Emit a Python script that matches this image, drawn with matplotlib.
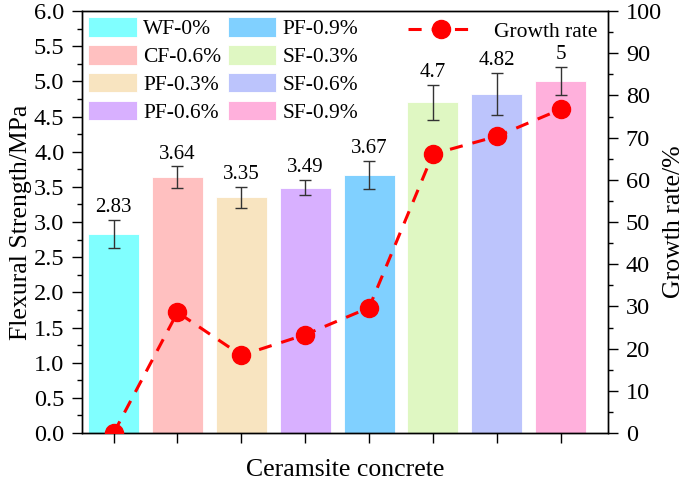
import matplotlib
matplotlib.use("Agg")
import matplotlib.pyplot as plt
from matplotlib.ticker import MultipleLocator, FormatStrFormatter
from matplotlib.patches import Patch

plt.rcParams['font.family'] = ['Liberation Serif', 'DejaVu Serif']

categories = ["WF-0%", "CF-0.6%", "PF-0.3%", "PF-0.6%", "PF-0.9%", "SF-0.3%", "SF-0.6%", "SF-0.9%"]
strength = [2.83, 3.64, 3.35, 3.49, 3.67, 4.7, 4.82, 5.0]
strength_labels = ["2.83", "3.64", "3.35", "3.49", "3.67", "4.7", "4.82", "5"]
errors = [0.2, 0.15, 0.15, 0.11, 0.2, 0.25, 0.3, 0.2]
growth = [0, 28.6, 18.4, 23.3, 29.7, 66.1, 70.3, 76.7]
colors = ["#80FFFF", "#FFC0C0", "#F8E4C0", "#D8B0FF", "#80D0FF", "#DFF7C2", "#BCC4FC", "#FFB0DC"]

TICK_FS = 17.5
LABEL_FS = 18.5
LEG_FS = 15.5
VAL_FS = 15

fig = plt.figure(figsize=(6.85, 4.83), dpi=100)
ax = fig.add_axes([0.1193, 0.1035, 0.769, 0.8737])
x = list(range(len(categories)))
ax.bar(x, strength, width=0.8, color=colors, edgecolor='white', linewidth=0.6,
       yerr=errors, error_kw=dict(ecolor="#333333", elinewidth=1.0, capsize=4.5, capthick=1.0),
       zorder=2)
for xi, v, e, lab in zip(x, strength, errors, strength_labels):
    ax.text(xi, v + e + 0.04, lab, ha='center', va='bottom', fontsize=VAL_FS)

ax.set_xlim(-0.5, 7.75)
ax.set_ylim(0, 6.0)
ax.yaxis.set_major_locator(MultipleLocator(0.5))
ax.yaxis.set_minor_locator(MultipleLocator(0.25))
ax.yaxis.set_major_formatter(FormatStrFormatter('%.1f'))
ax.set_xticks(x)
ax.set_xticklabels([])
ax.tick_params(axis='both', which='both', direction='out', labelsize=TICK_FS, pad=5)
ax.tick_params(axis='both', which='major', length=7.5, width=1.0)
ax.tick_params(axis='y', which='minor', length=3.6, width=1.0)
ax.set_ylabel("Flexural Strength/MPa", fontsize=LABEL_FS, labelpad=1)
ax.set_xlabel("Ceramsite concrete", fontsize=LABEL_FS, labelpad=6)

ax2 = ax.twinx()
ln, = ax2.plot(x, growth, color='#FF0000', linestyle=(0, (4.3, 3.3)), linewidth=2.2,
               marker='o', markersize=13, label="Growth rate", zorder=3)
ax2.set_ylim(0, 100)
ax2.yaxis.set_major_locator(MultipleLocator(10))
ax2.yaxis.set_minor_locator(MultipleLocator(5))
ax2.tick_params(axis='y', which='both', direction='out', labelsize=TICK_FS, pad=5)
ax2.tick_params(axis='y', which='major', length=7.5, width=1.0)
ax2.tick_params(axis='y', which='minor', length=3.6, width=1.0)
ax2.set_ylabel("Growth rate/%", fontsize=LABEL_FS, labelpad=1)

for a in (ax, ax2):
    for s in a.spines.values():
        s.set_linewidth(1.0)

handles = [Patch(facecolor=c, edgecolor='white', linewidth=0.6, label=l) for c, l in zip(colors, categories)]
leg = ax2.legend(handles=handles, ncol=2, loc='upper left', bbox_to_anchor=(0.0, 1.0),
                 frameon=False, fontsize=LEG_FS, handlelength=2.25, handleheight=1.0,
                 columnspacing=0.3, labelspacing=0.27, handletextpad=0.3,
                 borderaxespad=0.2, borderpad=0.1)
ax2.add_artist(leg)
ax2.legend(handles=[ln], loc='upper right', bbox_to_anchor=(1.0, 1.0), frameon=False,
           fontsize=LEG_FS, handlelength=3.0, handletextpad=1.0, borderaxespad=0.2,
           borderpad=0.3)

fig.savefig("out.png", dpi=100)
